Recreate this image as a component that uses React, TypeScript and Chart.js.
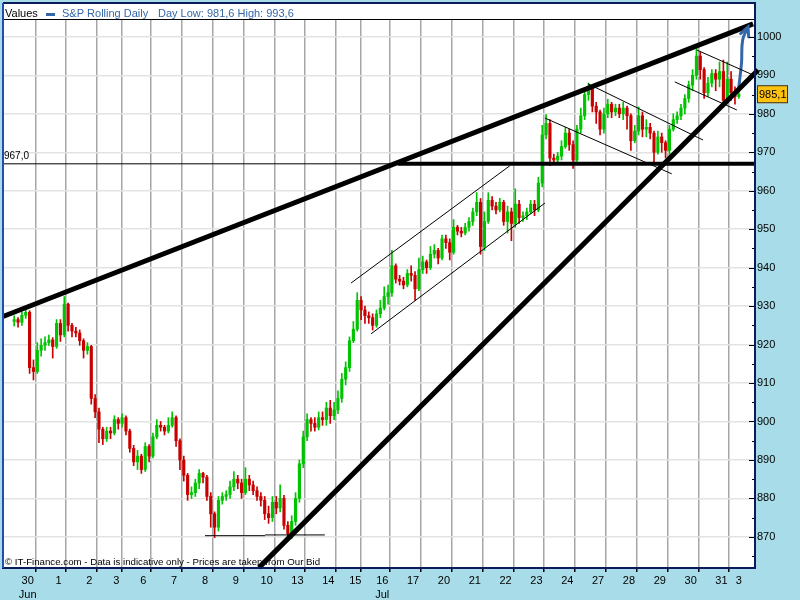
import React, { useEffect, useRef } from 'react';
import { Chart, registerables } from 'chart.js';
Chart.register(...registerables);

const dayLabels = ['30', '1', '2', '3', '6', '7', '8', '9', '10', '13', '14', '15', '16', '17', '20', '21', '22', '23', '24', '27', '28', '29', '30', '31', '3'];
const candlesPerDay = [8, 8, 8, 6, 8, 8, 8, 8, 8, 8, 8, 6, 8, 8, 8, 8, 8, 8, 8, 8, 8, 8, 8, 8, 1];
const monthLabels = [{ dayIndex: 0, label: 'Jun' }, { dayIndex: 12, label: 'Jul' }];

const firstOpen = 926.0;
const closes = [
  926.5, 925.8, 927.6, 928.4, 914.0, 913.0, 918.5, 919.8,
  920.5, 921.2, 919.5, 925.5, 922.5, 930.5, 925.0, 923.5,
  923.0, 921.0, 918.5, 919.5, 906.0, 902.5, 898.0, 895.5,
  897.5, 897.0, 900.5, 899.5, 901.0, 897.5,
  893.0, 889.5, 891.0, 887.5, 893.5, 891.0, 896.0, 899.0,
  898.5, 897.5, 899.0, 901.0, 895.0, 890.0, 886.0, 881.0,
  881.5, 884.0, 886.5, 885.5, 880.5, 876.0, 872.5, 879.5,
  880.5, 881.0, 883.0, 885.0, 884.0, 881.5, 885.0, 883.5,
  882.0, 880.5, 879.5, 876.0, 875.0, 879.0, 877.5, 880.0,
  873.0, 870.8, 874.0, 880.0, 889.0, 896.0, 900.5, 899.5,
  898.5, 901.0, 900.5, 903.5, 901.5, 903.0, 906.0, 911.0,
  914.0, 921.0, 924.0, 931.5, 929.0, 927.5,
  927.0, 925.0, 928.0, 929.5, 932.5, 933.5, 940.5, 937.0,
  936.5, 935.5, 938.5, 938.0, 934.5, 939.5, 941.5, 940.0,
  943.5, 944.5, 942.5, 947.5, 946.5, 944.0, 950.5, 949.5,
  949.0, 950.5, 952.0, 954.5, 957.0, 945.5, 952.0, 957.5,
  956.0, 955.0, 957.0, 952.0, 954.5, 951.5, 956.5, 953.0,
  953.5, 954.5, 956.5, 955.0, 962.0, 974.5, 977.5, 968.5,
  968.0, 969.0, 971.5, 975.0, 972.0, 968.0, 976.0, 979.5,
  985.0, 986.5, 982.0, 980.5, 976.0, 980.0, 982.5, 980.5,
  981.5, 980.0, 981.5, 979.5, 973.0, 975.5, 979.5, 976.0,
  976.5, 975.0, 970.0, 974.0, 972.5, 970.5, 976.0, 978.5,
  979.5, 981.5, 984.0, 987.5, 990.0, 995.0, 991.5, 985.5,
  988.0, 990.5, 989.0, 991.0, 983.5, 989.0, 985.5, 984.5,
  985.1,
];
const highs = [
  927.5, 927.0, 928.5, 929.5, 928.8, 916.0, 920.5, 921.5,
  922.0, 922.5, 921.8, 926.5, 926.5, 932.5, 930.8, 925.5,
  924.5, 923.8, 921.5, 920.5, 919.8, 907.0, 903.5, 898.5,
  898.5, 898.5, 901.5, 901.0, 902.0, 901.5,
  898.0, 893.8, 892.5, 891.5, 894.5, 894.0, 897.0, 900.5,
  900.0, 899.0, 901.0, 902.5, 901.5, 895.5, 891.0, 886.5,
  883.0, 885.0, 887.5, 886.8, 886.0, 881.5, 876.5, 880.5,
  881.5, 882.0, 884.5, 887.0, 886.0, 885.0, 888.0, 886.0,
  884.5, 883.0, 881.5, 880.5, 878.0, 880.5, 880.5, 883.5,
  880.8, 874.0, 875.5, 881.5, 890.0, 897.5, 902.0, 901.0,
  901.0, 902.5, 902.5, 905.0, 905.5, 905.0, 908.0, 912.5,
  915.5, 922.0, 926.0, 933.5, 932.5, 930.0,
  928.5, 928.0, 929.0, 931.5, 935.0, 935.5, 944.5, 941.0,
  938.0, 937.5, 939.5, 940.5, 939.0, 942.5, 943.0, 942.0,
  945.5, 946.0, 945.0, 948.5, 948.5, 947.5, 952.5, 951.0,
  950.5, 951.5, 953.0, 955.5, 959.5, 958.0, 954.5, 959.5,
  958.5, 957.0, 958.0, 957.5, 956.0, 955.5, 960.5, 957.5,
  954.5, 955.5, 957.5, 957.5, 963.5, 977.0, 979.8, 978.5,
  969.5, 970.0, 973.0, 976.5, 976.0, 973.0, 977.0, 981.5,
  986.5, 988.0, 987.0, 983.0, 981.0, 981.5, 983.8, 983.0,
  982.5, 982.5, 983.0, 982.0, 980.0, 977.0, 981.8, 980.5,
  978.5, 977.5, 975.5, 975.5, 975.0, 973.0, 977.0, 980.0,
  980.5, 982.5, 985.0, 988.5, 991.5, 997.5, 996.0, 992.0,
  989.5, 991.5, 991.5, 993.5, 994.0, 993.5, 991.0, 987.0,
  986.0,
];
const lows = [
  924.8, 924.5, 925.0, 926.8, 912.5, 910.8, 912.5, 917.0,
  918.5, 919.8, 916.5, 919.0, 920.8, 922.0, 923.5, 922.0,
  922.0, 919.8, 916.5, 917.5, 904.5, 901.0, 894.5, 894.0,
  894.8, 895.5, 896.5, 898.0, 898.5, 896.5,
  892.0, 888.5, 887.5, 886.5, 887.0, 889.5, 890.5, 895.5,
  897.5, 896.5, 897.0, 898.5, 893.5, 887.5, 884.5, 879.5,
  880.0, 880.5, 882.5, 884.0, 879.5, 872.5, 869.8, 871.5,
  878.5, 879.5, 880.0, 882.0, 882.5, 880.0, 881.0, 882.0,
  881.0, 879.5, 878.0, 874.5, 873.5, 874.0, 876.0, 876.5,
  872.0, 869.8, 869.5, 873.0, 879.0, 888.0, 895.0, 897.5,
  897.5, 897.8, 899.0, 899.0, 899.5, 900.5, 902.0, 905.0,
  909.5, 913.0, 920.5, 923.5, 926.5, 925.5,
  925.5, 923.8, 924.5, 927.0, 929.0, 930.5, 932.5, 936.0,
  935.5, 934.5, 935.0, 936.5, 931.5, 934.0, 938.5, 938.5,
  939.5, 942.5, 941.0, 942.0, 945.0, 942.0, 943.5, 948.5,
  948.0, 948.5, 949.5, 951.0, 953.5, 943.5, 944.5, 951.5,
  955.0, 954.0, 954.5, 951.0, 949.0, 947.0, 950.5, 951.5,
  952.0, 952.5, 954.0, 953.5, 954.5, 961.0, 973.5, 966.5,
  967.0, 967.0, 968.0, 971.0, 970.5, 965.8, 967.5, 975.0,
  978.5, 983.5, 980.5, 977.5, 974.5, 975.0, 979.0, 979.0,
  979.5, 979.0, 978.5, 976.0, 970.5, 972.5, 974.5, 974.0,
  974.0, 973.5, 967.5, 969.5, 970.0, 968.5, 969.5, 975.5,
  977.5, 978.5, 980.0, 983.0, 986.0, 989.0, 989.0, 984.0,
  984.5, 987.0, 986.0, 987.0, 981.8, 982.5, 983.5, 982.5,
  984.0,
];

const yTicks = [870, 880, 890, 900, 910, 920, 930, 940, 950, 960, 970, 980, 990, 1000];
const yMin = 861.9;
const yMax = 1004.4;
const xMin = -2.4;
const xMax = 192.7;
const lastPrice = 985.1;
const levelValue = 967.0;

const upperTrend = [{ x: -2.4, y: 927.3 }, { x: 192.2, y: 1003.4 }];
const lowerTrend = [{ x: 64.0, y: 862.0 }, { x: 193.5, y: 991.4 }];
const levelThin = [{ x: -2.4, y: 967.0 }, { x: 192.7, y: 967.0 }];
const levelThick = [{ x: 100.0, y: 967.0 }, { x: 192.7, y: 967.0 }];
const channelUpTop = [{ x: 87.9, y: 936.0 }, { x: 129.1, y: 966.5 }];
const channelUpBottom = [{ x: 93.1, y: 922.8 }, { x: 138.2, y: 956.8 }];
const channelDownTop = [{ x: 149.4, y: 987.8 }, { x: 179.2, y: 973.2 }];
const channelDownBottom = [{ x: 138.2, y: 978.9 }, { x: 171.1, y: 964.4 }];
const wedgeTop = [{ x: 177.6, y: 996.6 }, { x: 192.2, y: 990.1 }];
const wedgeBottom = [{ x: 171.9, y: 988.3 }, { x: 188.0, y: 981.0 }];
const supportLeft = [{ x: 50.0, y: 870.3 }, { x: 65.6, y: 870.3 }];
const supportRight = [{ x: 65.6, y: 870.5 }, { x: 81.1, y: 870.5 }];
const arrowPath = [{ x: 188.5, y: 987.0 }, { x: 189.2, y: 993.2 }, { x: 189.5, y: 999.2 }, { x: 190.9, y: 1002.6 }];

const FONT = "'Liberation Sans', Arial, sans-serif";
const BG = '#A8DCE9';
const NAVY = '#0B1B5C';
const BLUE = '#3467A8';
const UP = '#00C400';
const DOWN = '#C80000';

export default function App() {
  const ref = useRef<HTMLCanvasElement>(null);
  useEffect(() => {
    document.body.style.margin = '0';
    const canvas = ref.current!;
    const opens = closes.map((c, i) => (i === 0 ? firstOpen : closes[i - 1]));
    const isUp = closes.map((c, i) => c >= opens[i]);
    const bodies = closes.map((c, i) => ({ x: i + 0.5, y: [opens[i], c] }));
    const wicks = closes.map((c, i) => ({ x: i + 0.5, y: [lows[i], highs[i]] }));

    const boundaries: number[] = [];
    const labelMap: Record<string, string | string[]> = {};
    let acc = 0;
    candlesPerDay.forEach((n, i) => {
      const center = acc + n / 2;
      const m = monthLabels.find((ml) => ml.dayIndex === i);
      labelMap[center.toFixed(2)] = m ? [dayLabels[i], m.label] : dayLabels[i];
      acc += n;
      if (i < candlesPerDay.length - 1) boundaries.push(acc);
    });
    const boundarySet = new Set(boundaries.map((b) => b.toFixed(2)));
    const xTickValues = [...boundaries, ...Object.keys(labelMap).map(Number)].sort((a, b) => a - b);

    const line = (data: any[], width: number, color: string, extra: any = {}) => ({
      type: 'line',
      data,
      borderColor: color,
      borderWidth: width,
      pointRadius: 0,
      fill: false,
      tension: 0,
      order: 0,
      clip: false,
      ...extra,
    });

    const decor = {
      id: 'decor',
      beforeDraw(chart: any) {
        const ctx = chart.ctx;
        const a = chart.chartArea;
        ctx.save();
        ctx.fillStyle = BG;
        ctx.fillRect(0, 0, 800, 600);
        ctx.fillStyle = '#FFFFFF';
        ctx.fillRect(3, 3, a.right - 3, a.bottom - 3);
        ctx.strokeStyle = '#000';
        ctx.lineWidth = 1;
        ctx.beginPath();
        ctx.moveTo(3, a.top - 0.5);
        ctx.lineTo(a.right, a.top - 0.5);
        ctx.stroke();
        ctx.font = `11px ${FONT}`;
        ctx.textBaseline = 'alphabetic';
        ctx.textAlign = 'left';
        ctx.fillStyle = '#000';
        ctx.fillText('Values', 5, 17);
        ctx.fillStyle = BLUE;
        ctx.fillRect(46, 13, 9, 3);
        ctx.fillText('S&P Rolling Daily', 62, 17);
        ctx.fillText('Day Low: 981,6 High: 993,6', 158, 17);
        ctx.restore();
      },
      beforeDatasetsDraw(chart: any) {
        const ctx = chart.ctx;
        const y = chart.scales.y;
        ctx.save();
        ctx.font = `9.7px ${FONT}`;
        ctx.fillStyle = '#000';
        ctx.textAlign = 'left';
        ctx.textBaseline = 'alphabetic';
        ctx.fillText('© IT-Finance.com - Data is indicative only - Prices are taken from Our Bid', 5, 565);
        ctx.font = `10px ${FONT}`;
        ctx.fillText('967,0', 4, y.getPixelForValue(levelValue) - 5);
        ctx.restore();
      },
      afterDatasetsDraw(chart: any) {
        const ctx = chart.ctx;
        const a = chart.chartArea;
        const xs = chart.scales.x;
        const ys = chart.scales.y;
        ctx.save();
        const p1 = arrowPath[arrowPath.length - 2];
        const p2 = arrowPath[arrowPath.length - 1];
        const x1 = xs.getPixelForValue(p1.x), y1 = ys.getPixelForValue(p1.y);
        const x2 = xs.getPixelForValue(p2.x), y2 = ys.getPixelForValue(p2.y);
        const ang = Math.atan2(y2 - y1, x2 - x1);
        ctx.strokeStyle = BLUE;
        ctx.lineWidth = 3;
        ctx.lineCap = 'round';
        ctx.beginPath();
        ctx.moveTo(x2 - 10 * Math.cos(ang - 0.45), y2 - 10 * Math.sin(ang - 0.45));
        ctx.lineTo(x2, y2);
        ctx.lineTo(x2 - 10 * Math.cos(ang + 0.45), y2 - 10 * Math.sin(ang + 0.45));
        ctx.stroke();
        ctx.strokeStyle = '#000';
        ctx.lineWidth = 1;
        ctx.lineCap = 'butt';
        for (let v = 865; v <= 1000; v += 5) {
          const py = Math.round(ys.getPixelForValue(v)) + 0.5;
          const len = v % 10 === 0 ? 6 : 3;
          ctx.beginPath();
          ctx.moveTo(a.right - len, py);
          ctx.lineTo(a.right, py);
          ctx.stroke();
        }
        ctx.strokeStyle = NAVY;
        ctx.lineWidth = 2;
        ctx.beginPath();
        ctx.moveTo(3, 3);
        ctx.lineTo(a.right, 3);
        ctx.lineTo(a.right, a.bottom);
        ctx.lineTo(3, a.bottom);
        ctx.stroke();
        ctx.strokeStyle = '#1E4FB0';
        ctx.beginPath();
        ctx.moveTo(3, 3);
        ctx.lineTo(3, a.bottom);
        ctx.stroke();
        const py = ys.getPixelForValue(lastPrice);
        ctx.fillStyle = '#FFC20E';
        ctx.fillRect(a.right + 2, py - 9, 31, 18);
        ctx.strokeStyle = '#333';
        ctx.lineWidth = 1;
        ctx.strokeRect(a.right + 2.5, py - 8.5, 30, 17);
        ctx.fillStyle = '#000';
        ctx.font = `11px ${FONT}`;
        ctx.textAlign = 'left';
        ctx.textBaseline = 'middle';
        ctx.fillText('985,1', a.right + 4, py + 1);
        ctx.restore();
      },
    };

    const chart = new Chart(canvas, {
      type: 'bar',
      data: {
        datasets: [
          {
            type: 'bar',
            data: wicks as any,
            backgroundColor: (c: any) => (isUp[c.dataIndex] ? UP : DOWN),
            barThickness: 1,
            grouped: false,
            order: 2,
          } as any,
          {
            type: 'bar',
            data: bodies as any,
            backgroundColor: (c: any) => (isUp[c.dataIndex] ? UP : DOWN),
            barThickness: 2.5,
            minBarLength: 1,
            grouped: false,
            order: 1,
          } as any,
          line(levelThin, 1, '#000'),
          line(levelThick, 4, '#000'),
          line(upperTrend, 5, '#000'),
          line(lowerTrend, 5, '#000'),
          line(channelUpTop, 1, '#000'),
          line(channelUpBottom, 1, '#000'),
          line(channelDownTop, 1, '#000'),
          line(channelDownBottom, 1, '#000'),
          line(wedgeTop, 1, '#000'),
          line(wedgeBottom, 1, '#000'),
          line(supportLeft, 1, '#000'),
          line(supportRight, 1, '#000'),
          line(arrowPath, 3, BLUE, { tension: 0.4, borderCapStyle: 'round' }),
        ] as any,
      },
      options: {
        responsive: false,
        animation: false,
        devicePixelRatio: 1,
        layout: { padding: { left: 3, top: 20, right: 0, bottom: 0 } },
        plugins: { legend: { display: false }, tooltip: { enabled: false } },
        scales: {
          x: {
            type: 'linear',
            min: xMin,
            max: xMax,
            offset: false,
            afterBuildTicks: (s: any) => {
              s.ticks = xTickValues.map((v) => ({ value: v }));
            },
            afterFit: (s: any) => {
              s.height = 32;
            },
            ticks: {
              autoSkip: false,
              maxRotation: 0,
              padding: 2,
              color: '#000',
              font: { family: FONT, size: 11, lineHeight: 1.25 },
              callback: (v: any) => {
                const k = Number(v).toFixed(2);
                return labelMap[k] !== undefined ? (labelMap[k] as any) : '';
              },
            },
            grid: {
              color: (c: any) => (c.tick && boundarySet.has(Number(c.tick.value).toFixed(2)) ? '#A6A6A6' : 'rgba(0,0,0,0)'),
              tickColor: (c: any) => (c.tick && boundarySet.has(Number(c.tick.value).toFixed(2)) ? '#000' : 'rgba(0,0,0,0)'),
              lineWidth: 1.5,
              tickLength: 4,
            },
            border: { display: true, color: NAVY, width: 2 },
          },
          y: {
            type: 'linear',
            position: 'right',
            min: yMin,
            max: yMax,
            afterBuildTicks: (s: any) => {
              s.ticks = yTicks.map((v) => ({ value: v }));
            },
            afterFit: (s: any) => {
              s.width = 45;
            },
            ticks: {
              padding: 2,
              color: '#000',
              font: { family: FONT, size: 11 },
              callback: (v: any) => String(v),
            },
            grid: { color: '#E3E3E3', lineWidth: 1.5, drawTicks: false },
            border: { display: true, color: NAVY, width: 2 },
          },
        },
      },
      plugins: [decor],
    } as any);
    return () => chart.destroy();
  }, []);
  return (
    <div style={{ position: 'fixed', left: 0, top: 0, width: 800, height: 600 }}>
      <canvas ref={ref} width={800} height={600} style={{ width: 800, height: 600, display: 'block' }} />
    </div>
  );
}
